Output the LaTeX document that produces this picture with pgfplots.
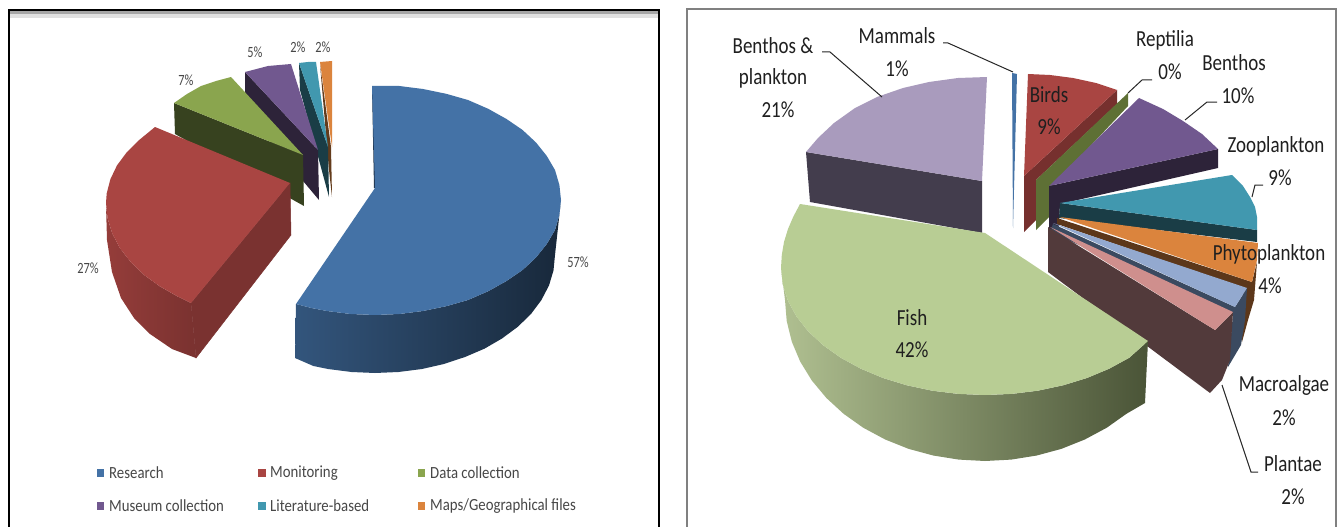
\documentclass[border=0pt]{standalone}
\usepackage{graphicx}
\usepackage{pgfplots}
\pgfplotsset{compat=1.18}
\usepackage{fontspec}
\setmainfont{Carlito}
\definecolor{cblue}{HTML}{4472A6}
\definecolor{cred}{HTML}{A94542}
\definecolor{cgreen}{HTML}{8AA54E}
\definecolor{cpurple}{HTML}{71588F}
\definecolor{cteal}{HTML}{4198AF}
\definecolor{corange}{HTML}{DB843D}
\newcommand\rt[1]{\scalebox{.95}[1.15]{#1}}
\newcommand\lt[1]{\scalebox{.95}[1.2]{#1}}
\tikzset{lab/.style={text=black!72,font=\fontsize{13}{13}\selectfont,inner sep=0pt},
 rl/.style={text=black!88,font=\fontsize{20}{20}\selectfont,inner sep=0pt},
 leg/.style={text=black!72,font=\fontsize{14.8}{14.8}\selectfont,inner sep=0pt,anchor=west}}
\pgfplotsset{poly/.style={draw=none,no markers,forget plot},
 lead/.style={black!85,line width=1pt,no markers,forget plot}}
\begin{document}
\begin{tikzpicture}
\begin{axis}[scale only axis,width=1342pt,height=527pt,xmin=0,xmax=1342,ymin=0,ymax=527,y dir=reverse,hide axis]
\addplot[poly,fill=white] coordinates {(0,0)(1342,0)(1342,527)(0,527)} --cycle;
% ---- left panel frame
\addplot[poly,fill=black!35] coordinates {(10,11)(658,11)(658,15)(10,15)} --cycle;
\addplot[poly,fill=black!12] coordinates {(10,14)(658,14)(658,18)(10,18)} --cycle;
\addplot[black,line width=2.2pt,no markers,forget plot] coordinates {(9,527)(9,10)(659,10)(659,527)};
% orange
\addplot[poly,fill=corange!45!black] coordinates {(320,64)(331,147)(332,197)(329,170)} --cycle;
\addplot[poly,fill=corange] coordinates {(320,62)(332,61)(332,147)} --cycle;
% teal
\addplot[poly,fill=cteal!40!black] coordinates {(299,63)(328,147)(329,197)(300,90)} --cycle;
\addplot[poly,fill=cteal] coordinates {(299,63)(308,62)(316,62)(328,147)} --cycle;
% purple
\addplot[poly,fill=cpurple!40!black] coordinates {(245,72)(318,150)(319,200)(245,112)} --cycle;
\addplot[poly,fill=cpurple] coordinates {(245,72)(268,66)(291,64)(318,150)} --cycle;
% green
\addplot[poly,fill=cgreen!40!black] coordinates {(174,103)(303,155)(304,206)(175,134)} --cycle;
\addplot[poly,fill=cgreen] coordinates {(174,103)(187,94)(201,86)(216,81)(231,77)(303,155)} --cycle;
% red
\addplot[poly,left color=cred!88!black,right color=cred!72!black] coordinates {(106,205)(107.6,218.4)(112.3,233.6)(120,248.2)(130.7,262)(144,274.9)(159.9,286.4)(176.7,296)(191,303)(196,358)(172,349)(150,334)(134,318)(121,298)(112,272)(107,240)} --cycle;
\addplot[no markers,forget plot,draw=cred!72!black,fill=cred!72!black,line width=.5pt] coordinates {(191,303)(290,183)(291,235)(196,358)} --cycle;
\addplot[poly,fill=cred] coordinates {(290,183)(155,127)(139.3,139.9)(126.8,152.2)(117,165.4)(110.4,179.2)(106.7,193.4)(106,203)(107.6,218.4)(112.3,233.6)(120,248.2)(130.7,262)(144,274.9)(159.9,286.4)(176.7,296)(191,303)} --cycle;
% blue
\addplot[poly,fill=cblue!45!black] coordinates {(372,87)(376,100)(376,188)(374,188)} --cycle;
\addplot[poly,left color=cblue!75!black,middle color=cblue!45!black,right color=cblue!35!black] coordinates {(561,200)(559.4,215)(555,230)(546.8,244)(536,257.5)(522.6,270)(506.5,281)(488.2,291.2)(468,300)(446.2,306.2)(423,311)(399.3,314)(375,315)(350.7,314)(327,311)(311.4,308)(296,304)(295,358)(313.4,366)(328,369)(351.5,372)(375,373)(398.5,372)(422,369)(443.9,364)(465,357)(484.6,348.6)(502,338.5)(517.8,326.8)(531,314)(541.3,300.2)(549,285.5)(553.5,270.4)(555,255)} --cycle;
\addplot[poly,fill=cblue] coordinates {(375,188)(372,86)(399.3,86)(423,89)(446.2,93.8)(468,100)(488.2,108.8)(506.5,119)(522.6,130)(536,142.5)(546.8,156)(555,170)(559.4,185)(561,200)(559.4,215)(555,230)(546.8,244)(536,257.5)(522.6,270)(506.5,281)(488.2,291.2)(468,300)(446.2,306.2)(423,311)(399.3,314)(375,315)(350.7,314)(327,311)(311.4,308)(296,304)} --cycle;
% left labels
\node[lab] at (axis cs:298,47) {\lt{2\%}};
\node[lab] at (axis cs:323,47) {\lt{2\%}};
\node[lab] at (axis cs:255,52) {\lt{5\%}};
\node[lab] at (axis cs:186,80) {\lt{7\%}};
\node[lab] at (axis cs:88,268) {\lt{27\%}};
\node[lab] at (axis cs:578,262) {\lt{57\%}};
% legend
\addplot[poly,fill=cblue] coordinates {(97,469)(104,469)(104,477)(97,477)} --cycle;
\addplot[poly,fill=cred] coordinates {(258,469)(266,469)(266,477)(258,477)} --cycle;
\addplot[poly,fill=cgreen] coordinates {(418,469)(425,469)(425,477)(418,477)} --cycle;
\addplot[poly,fill=cpurple] coordinates {(97,502)(104,502)(104,510)(97,510)} --cycle;
\addplot[poly,fill=cteal] coordinates {(258,502)(266,502)(266,510)(258,510)} --cycle;
\addplot[poly,fill=corange] coordinates {(418,502)(425,502)(425,510)(418,510)} --cycle;
\node[leg] at (axis cs:109,473) {\scalebox{1}[1.15]{Research}};
\node[leg] at (axis cs:270,473) {\scalebox{1}[1.15]{Monitoring}};
\node[leg] at (axis cs:430,473) {\scalebox{1}[1.15]{Data collection}};
\node[leg] at (axis cs:109,506) {\scalebox{1}[1.15]{Museum collection}};
\node[leg] at (axis cs:270,506) {\scalebox{1}[1.15]{Literature-based}};
\node[leg] at (axis cs:430,506) {\scalebox{1}[1.15]{Maps/Geographical files}};
% ---- right panel frame
\addplot[black!50,line width=2pt,no markers,forget plot] coordinates {(687,527)(687,9)(1336,9)(1336,527)};
% mammals
\addplot[poly,fill=cblue] coordinates {(1012,73)(1017,74)(1013,228)} --cycle;
% birds
\addplot[poly,fill=cred!70!black] coordinates {(1117,90)(1117,104)(1036,180)(1036,220)(1024,232)(1024,176)} --cycle;
\addplot[poly,fill=cred] coordinates {(1028,74)(1050,75)(1073,78)(1096,83)(1117,90)(1024,176)} --cycle;
% reptilia
\addplot[poly,fill=cgreen!68!black] coordinates {(1128,93)(1128,106)(1049,190)(1049,217)(1036,230)(1036,180)} --cycle;
% benthos
\addplot[poly,fill=cpurple!40!black] coordinates {(1218,149)(1218,168)(1060,204)(1058,240)(1049,240)(1049,186)} --cycle;
\addplot[poly,fill=cpurple] coordinates {(1139,98)(1163,109)(1183,121)(1202,134)(1218,149)(1049,186)} --cycle;
% zooplankton
\addplot[poly,fill=cteal!40!black] coordinates {(1060,203)(1257,230)(1257,242)(1059,218)} --cycle;
\addplot[poly,fill=cteal] coordinates {(1060,203)(1232,175)(1243,186)(1250,197)(1255,207)(1257,217)(1257,230)} --cycle;
% phytoplankton
\addplot[poly,fill=corange!42!black] coordinates {(1057,218)(1252,282)(1257,262)(1254,300)(1248,320)(1242,342)(1243,288)(1057,224)} --cycle;
\addplot[poly,fill=corange] coordinates {(1060,217)(1258,243)(1257,260)(1252,282)} --cycle;
% macroalgae
\addplot[poly,fill={rgb,255:red,59;green,74;blue,96}] coordinates {(1053,224)(1235,307)(1247,288)(1245,320)(1241,345)(1228,367)(1233,314)(1050,232)} --cycle;
\addplot[poly,fill={rgb,255:red,147;green,169;blue,207}] coordinates {(1053,223)(1247,288)(1235,307)} --cycle;
% plantae
\addplot[poly,fill={rgb,255:red,82;green,58;blue,59}] coordinates {(1048,227)(1215,330)(1233,312)(1230,360)(1222,380)(1210,393)(1048,272)} --cycle;
\addplot[poly,fill={rgb,255:red,207;green,143;blue,141}] coordinates {(1050,227)(1233,312)(1215,330)} --cycle;
% benthos & plankton
\addplot[poly,fill={rgb,255:red,67;green,61;blue,77}] coordinates {(806,152)(982,181)(982,233)(810,202)} --cycle;
\addplot[poly,fill={rgb,255:red,169;green,155;blue,189}] coordinates {(987,77)(958,78)(929,82)(903,88)(877,97)(855,108)(834,123)(818,138)(806,152)(982,181)} --cycle;
% fish
\addplot[poly,left color={rgb,255:red,176;green,192;blue,145},middle color={rgb,255:red,115;green,130;blue,90},right color={rgb,255:red,74;green,84;blue,55}] coordinates {(781,268)(782.8,284.6)(788,301)(796.5,316.6)(808.3,331.5)(823.2,345.3)(840.8,357.8)(860.8,368.7)(883,378)(906.9,385.3)(932.2,390.7)(958.3,393.9)(985,395)(1011.7,393.9)(1037.8,390.7)(1063.1,385.3)(1087,378)(1109.2,368.7)(1129.2,357.8)(1148,341)(1145,403)(1126.4,413.8)(1106.8,427.7)(1085,439.4)(1061.6,448.8)(1036.8,455.5)(1011.2,459.6)(985,461)(958.8,459.6)(933.2,455.5)(908.4,448.8)(885,439.4)(863.2,427.7)(843.6,413.8)(826.4,398)(811.8,380.5)(800.2,361.6)(791.8,341.7)(786.7,321)(785,300)} --cycle;
\addplot[poly,fill={rgb,255:red,184;green,205;blue,148}] coordinates {(800,204)(793.3,216.7)(788,229)(784,242)(781.8,255)(781,268)(782.8,284.6)(788,301)(796.5,316.6)(808.3,331.5)(823.2,345.3)(840.8,357.8)(860.8,368.7)(883,378)(906.9,385.3)(932.2,390.7)(958.3,393.9)(985,395)(1011.7,393.9)(1037.8,390.7)(1063.1,385.3)(1087,378)(1109.2,368.7)(1129.2,357.8)(1148,341)(985,233)} --cycle;
% leaders
\addplot[lead] coordinates {(943,43)(948,43)(1013,72)};
\addplot[lead] coordinates {(822,52)(830,52)(882,97)};
\addplot[lead] coordinates {(1152,80)(1142,80)(1128,93)};
\addplot[lead] coordinates {(1217,102)(1207,102)(1185,120)};
\addplot[lead] coordinates {(1263,185)(1255,185)(1252,197)};
\addplot[lead] coordinates {(1258,472)(1251,472)(1222,385)};
% right labels
\node[rl] at (axis cs:897,36) {\rt{Mammals}};
\node[rl] at (axis cs:897,69) {\rt{1\%}};
\node[rl] at (axis cs:773,46) {\rt{Benthos \&}};
\node[rl] at (axis cs:773,78) {\rt{plankton}};
\node[rl] at (axis cs:778,110) {\rt{21\%}};
\node[rl] at (axis cs:1165,40) {\rt{Reptilia}};
\node[rl] at (axis cs:1170,72) {\rt{0\%}};
\node[rl] at (axis cs:1234,63) {\rt{Benthos}};
\node[rl] at (axis cs:1238,96) {\rt{10\%}};
\node[rl] at (axis cs:1049,95) {\rt{Birds}};
\node[rl] at (axis cs:1049,127) {\rt{9\%}};
\node[rl] at (axis cs:1276,146) {\rt{Zooplankton}};
\node[rl] at (axis cs:1280,178) {\rt{9\%}};
\node[rl] at (axis cs:1269,254) {\rt{Phytoplankton}};
\node[rl] at (axis cs:1270,286) {\rt{4\%}};
\node[rl] at (axis cs:912,318) {\rt{Fish}};
\node[rl] at (axis cs:912,350) {\rt{42\%}};
\node[rl] at (axis cs:1284,385) {\rt{Macroalgae}};
\node[rl] at (axis cs:1284,418) {\rt{2\%}};
\node[rl] at (axis cs:1293,464) {\rt{Plantae}};
\node[rl] at (axis cs:1293,497) {\rt{2\%}};
\end{axis}
\end{tikzpicture}
\end{document}
